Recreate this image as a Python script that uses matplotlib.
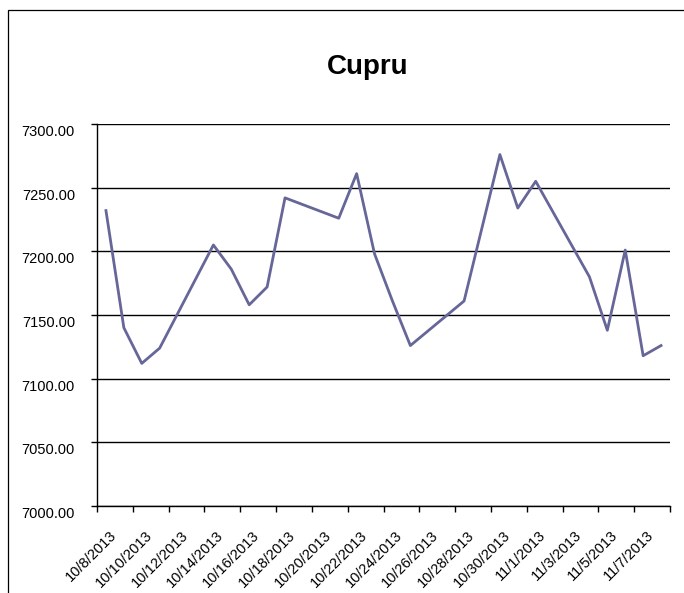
import numpy as np
import pandas as pd
import matplotlib
matplotlib.use("Agg")
import matplotlib.pyplot as plt
import matplotlib.transforms as mtransforms
from matplotlib.patches import Rectangle

# ---------------------------------------------------------------
# data
# ---------------------------------------------------------------
dates = ['10/8/2013', '10/9/2013', '10/10/2013', '10/11/2013',
         '10/14/2013', '10/15/2013', '10/16/2013', '10/17/2013', '10/18/2013',
         '10/21/2013', '10/22/2013', '10/23/2013', '10/24/2013', '10/25/2013',
         '10/28/2013', '10/30/2013', '10/31/2013', '11/1/2013',
         '11/4/2013', '11/5/2013', '11/6/2013', '11/7/2013', '11/8/2013']
values = [7232, 7140, 7112, 7124,
          7205, 7186, 7158, 7172, 7242,
          7226, 7261, 7198, 7161, 7126,
          7161, 7276, 7234, 7255,
          7180, 7138, 7201, 7118, 7126]

tick_labels = ['10/8/2013', '10/10/2013', '10/12/2013', '10/14/2013',
               '10/16/2013', '10/18/2013', '10/20/2013', '10/22/2013',
               '10/24/2013', '10/26/2013', '10/28/2013', '10/30/2013',
               '11/1/2013', '11/3/2013', '11/5/2013', '11/7/2013']
y_ticks = [7000, 7050, 7100, 7150, 7200, 7250, 7300]

# day offsets from first date; Excel date axis puts each day in the middle of its slot
start = pd.to_datetime(dates[0], format='%m/%d/%Y')
day_x = (pd.to_datetime(dates, format='%m/%d/%Y') - start).days.to_numpy() + 0.5
label_x = (pd.to_datetime(tick_labels, format='%m/%d/%Y') - start).days.to_numpy() + 0.5
n_days = int(label_x[-1] + 1.5)

# ---------------------------------------------------------------
# plotting
# ---------------------------------------------------------------
plt.rcParams['font.family'] = ['Liberation Sans', 'DejaVu Sans']

W, H = 684, 593
fig = plt.figure(figsize=(W / 100, H / 100), dpi=100)

# chart area border (cut off at right / bottom like the screenshot)
fig.patches.append(Rectangle((8 / W, -0.1), 1.2, 1 - 10 / H + 0.1, transform=fig.transFigure,
                             fill=False, edgecolor='black', linewidth=0.9))

ax = fig.add_axes([97 / W, 1 - 506 / H, (670 - 97) / W, (506 - 124) / H])

ax.plot(day_x, values, color='#666699', linewidth=2.0, zorder=3)

ax.set_xlim(0, n_days)
ax.set_ylim(y_ticks[0], y_ticks[-1])

ax.set_yticks(y_ticks)
ax.set_yticklabels([])
ax.set_xticks(np.arange(0, n_days + 1, 2))
ax.set_xticklabels([])
ax.tick_params(axis='both', direction='out', length=4.3, width=1, color='black')

ax.yaxis.grid(True, color='black', linewidth=1.0)
ax.set_axisbelow(True)
for side in ['top', 'right']:
    ax.spines[side].set_visible(False)
for side in ['left', 'bottom']:
    ax.spines[side].set_color('black')
    ax.spines[side].set_linewidth(1.0)

# y labels: Excel draws them a bit below their gridline
ytrans = ax.get_yaxis_transform() + mtransforms.ScaledTranslation(-22 / 100, -8 / 100, fig.dpi_scale_trans)
for v in y_ticks:
    ax.text(0, v, f'{v:.2f}', transform=ytrans, ha='right', va='center', fontsize=10.5)

# x labels rotated 45 degrees
xtrans = ax.get_xaxis_transform() + mtransforms.ScaledTranslation(3 / 100, -22 / 100, fig.dpi_scale_trans)
for x, lab in zip(label_x, tick_labels):
    ax.text(x, 0, lab, transform=xtrans, ha='right', va='top', rotation=45,
            rotation_mode='anchor', fontsize=10.5)

fig.text(368 / W, 1 - 67 / H, 'Cupru', ha='center', va='center', fontsize=20, fontweight='bold')

fig.savefig('out.png', dpi=100)
